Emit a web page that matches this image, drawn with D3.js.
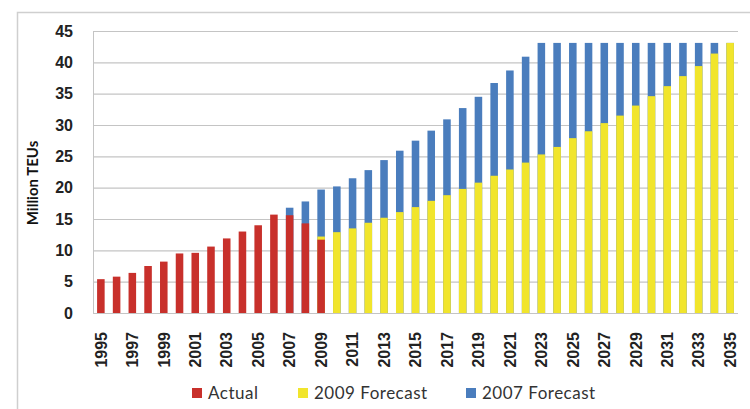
<!DOCTYPE html>
<html>
<head>
<meta charset="utf-8">
<script src="https://cdn.jsdelivr.net/npm/d3@7"></script>
<style>
  html, body { margin: 0; padding: 0; background: #fff; }
  svg { display: block; font-family: Lato, "Open Sans", sans-serif; }
</style>
</head>
<body>
<svg id="chart" width="750" height="409"></svg>
<script>
// Container throughput, San Pedro Bay ports (million TEUs)
const years = d3.range(1995, 2036);
const actualYears = d3.range(1995, 2010);
const actual = [5.4, 5.8, 6.4, 7.5, 8.2, 9.5, 9.6, 10.6, 11.9, 13.0, 14.0, 15.7, 15.6, 14.3, 11.7];
const forecast2009Years = d3.range(2009, 2036);
const forecast2009 = [12.2, 12.9, 13.5, 14.4, 15.2, 16.1, 16.9, 17.9, 18.8, 19.8, 20.8, 21.9, 22.9, 24.0,
  25.3, 26.5, 27.9, 29.0, 30.3, 31.5, 33.1, 34.6, 36.2, 37.8, 39.4, 41.4, 43.1];
const forecast2007Years = d3.range(2007, 2036);
const forecast2007 = [16.8, 17.8, 19.7, 20.2, 21.5, 22.8, 24.4, 25.9, 27.5, 29.1, 30.9, 32.7, 34.5, 36.7,
  38.7, 40.9, 43.1, 43.1, 43.1, 43.1, 43.1, 43.1, 43.1, 43.1, 43.1, 43.1, 43.1, 43.1, 43.1];
const yTicks = [0, 5, 10, 15, 20, 25, 30, 35, 40, 45];
const xTickYears = years.filter(y => (y - 1995) % 2 === 0);
const seriesNames = ["Actual", "2009 Forecast", "2007 Forecast"];
const seriesColors = ["#c8302b", "#f1e52c", "#4a7dbd"];

const svg = d3.select("#chart");
const plot = { left: 93, right: 738, top: 31, bottom: 313 };

const x = d3.scaleBand()
  .domain(years)
  .range([plot.left, plot.right])
  .paddingInner(0.52)
  .paddingOuter(0.26);

const y = d3.scaleLinear()
  .domain([0, 45])
  .range([plot.bottom, plot.top]);

// outer frame
svg.append("path")
  .attr("d", "M17.5,409 V12.5 H750")
  .attr("fill", "none")
  .attr("stroke", "#cfcfcf")
  .attr("stroke-width", 1.5);

// horizontal gridlines + y tick labels
const yAxis = d3.axisLeft(y)
  .tickValues(yTicks)
  .tickSize(-(plot.right - plot.left))
  .tickPadding(20);

const gy = svg.append("g")
  .attr("transform", `translate(${plot.left},0)`)
  .call(yAxis);
gy.select(".domain").attr("stroke", "#c4c4c4");
gy.selectAll(".tick line").attr("stroke", "#c4c4c4").attr("stroke-width", 1.2);
gy.selectAll(".tick text")
  .attr("fill", "#222")
  .style("font-size", "16px")
  .style("font-weight", "600");

// y axis title
svg.append("text")
  .attr("transform", "translate(38,183) rotate(-90)")
  .attr("text-anchor", "middle")
  .attr("fill", "#111")
  .style("font-size", "15px")
  .style("font-weight", "700")
  .text("Million TEUs");

// bars: 2007 forecast behind, 2009 forecast, then actual in front
function drawBars(keys, values, color) {
  svg.append("g")
    .selectAll("rect")
    .data(keys.map((k, i) => ({ year: k, value: values[i] })))
    .join("rect")
    .attr("x", d => x(d.year))
    .attr("width", x.bandwidth())
    .attr("y", d => y(d.value))
    .attr("height", d => y(0) - y(d.value))
    .attr("fill", color);
}
drawBars(forecast2007Years, forecast2007, seriesColors[2]);
drawBars(forecast2009Years, forecast2009, seriesColors[1]);
drawBars(actualYears, actual, seriesColors[0]);

// x axis labels (every other year, rotated)
const xAxis = d3.axisBottom(x).tickValues(xTickYears).tickSize(0).tickPadding(0);
const gx = svg.append("g")
  .attr("transform", `translate(0,${plot.bottom})`)
  .call(xAxis);
gx.select(".domain").remove();
gx.selectAll(".tick text")
  .attr("transform", "rotate(-90)")
  .attr("x", -19)
  .attr("y", 0)
  .attr("dy", "0.36em")
  .attr("text-anchor", "end")
  .attr("fill", "#222")
  .style("font-size", "16px")
  .style("font-weight", "600");

// legend
const legendX = [192, 298, 466];
const legend = svg.append("g");
seriesNames.forEach((name, i) => {
  legend.append("rect")
    .attr("x", legendX[i])
    .attr("y", 388)
    .attr("width", 10)
    .attr("height", 10)
    .attr("fill", seriesColors[i]);
  legend.append("text")
    .attr("x", legendX[i] + 16)
    .attr("y", 399)
    .attr("fill", "#333")
    .style("font-size", "17px")
    .style("letter-spacing", "0.5px")
    .text(name);
});
</script>
</body>
</html>
